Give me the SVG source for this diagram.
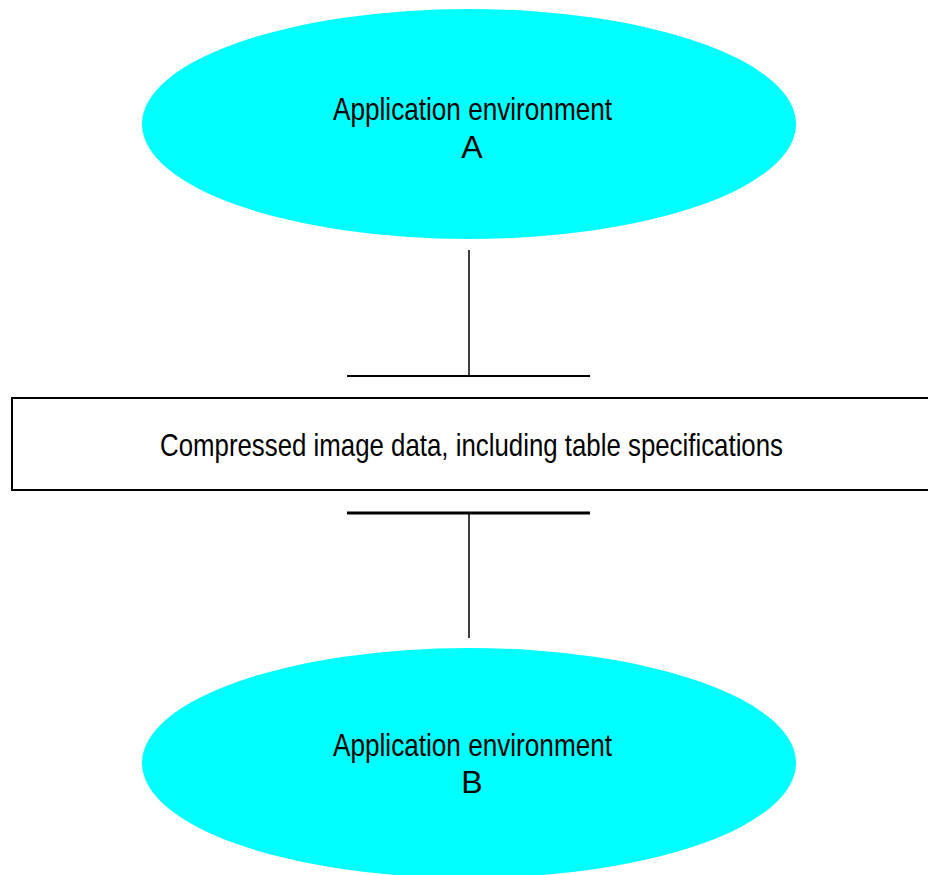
<svg xmlns="http://www.w3.org/2000/svg" width="928" height="875" viewBox="0 0 928 875">
<style>
.env{fill:#00ffff;stroke:none}
.lbl{font-family:"Liberation Sans",Arial,sans-serif;font-size:32px;fill:#000;text-anchor:middle}
.box{fill:#fff;stroke:#000;stroke-width:2}
.con{stroke:#000;fill:none}
</style>
<rect width="928" height="875" fill="#fff"/>
<g id="connectors">
<line class="con" x1="469" y1="250" x2="469" y2="376" stroke-width="1.5"/>
<line class="con" x1="347" y1="376" x2="590" y2="376" stroke-width="2"/>
<line class="con" x1="347" y1="513" x2="590" y2="513" stroke-width="3"/>
<line class="con" x1="469" y1="513" x2="469" y2="638" stroke-width="1.5"/>
</g>
<g id="envA">
<ellipse class="env" cx="469" cy="124" rx="327" ry="115"/>
<text class="lbl" x="472.5" y="120" textLength="279" lengthAdjust="spacingAndGlyphs">Application environment</text>
<text class="lbl" x="472" y="158">A</text>
</g>
<g id="data">
<rect class="box" x="12" y="398" width="918" height="92"/>
<text class="lbl" x="471.5" y="456" textLength="623" lengthAdjust="spacingAndGlyphs">Compressed image data, including table specifications</text>
</g>
<g id="envB">
<ellipse class="env" cx="469" cy="763" rx="327" ry="115"/>
<text class="lbl" x="472.5" y="756" textLength="279" lengthAdjust="spacingAndGlyphs">Application environment</text>
<text class="lbl" x="472" y="793">B</text>
</g>
</svg>
